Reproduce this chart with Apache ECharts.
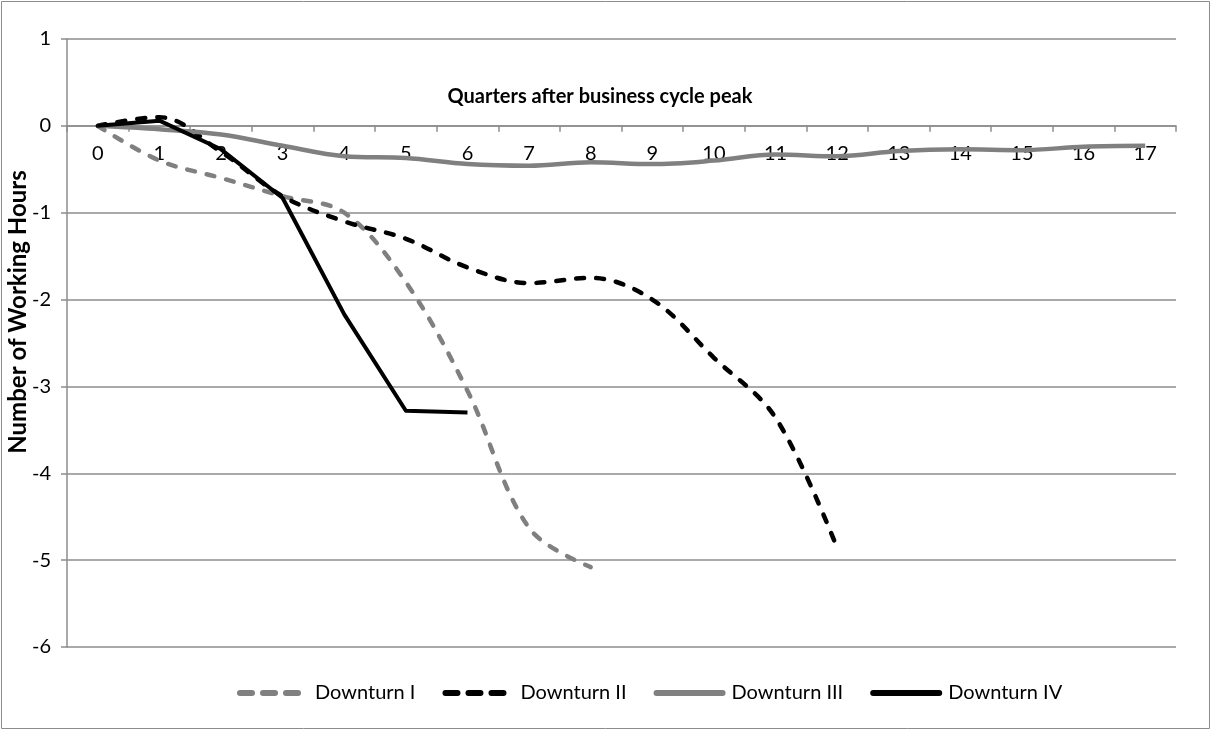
<!DOCTYPE html>
<html>
<head>
<meta charset="utf-8">
<script src="https://cdn.jsdelivr.net/npm/echarts@6/dist/echarts.min.js"></script>
<style>
html,body{margin:0;padding:0;background:#fff;}
#chart{width:1212px;height:734px;}
</style>
</head>
<body>
<div id="chart"></div>
<script>
// ---- data ----
var categories = ['0','1','2','3','4','5','6','7','8','9','10','11','12','13','14','15','16','17'];
var yTicks = { min: -6, max: 1, interval: 1 };
var downturnI   = [0, -0.40, -0.60, -0.81, -1.00, -1.80, -3.05, -4.63, -5.08];
var downturnII  = [0, 0.10, -0.30, -0.81, -1.10, -1.30, -1.63, -1.81, -1.75, -2.00, -2.67, -3.36, -4.86];
var downturnIII = [0, -0.04, -0.10, -0.23, -0.35, -0.37, -0.44, -0.46, -0.42, -0.44, -0.40, -0.33, -0.35, -0.29, -0.27, -0.28, -0.24, -0.23];
var downturnIV  = [0, 0.06, -0.27, -0.83, -2.17, -3.28, -3.30];
var seriesNames = ['Downturn I', 'Downturn II', 'Downturn III', 'Downturn IV'];
var xTitle = 'Quarters after business cycle peak';
var yTitle = 'Number of Working Hours';

var FONT = 'Lato, "Liberation Sans", sans-serif';
var GRAY = '#808080';
var AXIS = '#8c8c8c';

var GRID = { left: 67, right: 36, top: 39, bottom: 87 };
var CH = 734;
var gridHeight = CH - GRID.top - GRID.bottom;
// place the category axis at value 0 of the value axis
var zeroOffset = -((0 - yTicks.min) / (yTicks.max - yTicks.min)) * gridHeight;

var chart = echarts.init(document.getElementById('chart'), null, { renderer: 'canvas' });

function lineSeries(name, data, color, dashed, smooth, width) {
  return {
    name: name,
    type: 'line',
    data: data,
    symbol: 'none',
    showSymbol: false,
    smooth: smooth,
    lineStyle: {
      color: color,
      width: width,
      type: dashed ? [8, 12] : 'solid',
      cap: dashed ? 'round' : 'butt',
      join: 'round'
    },
    itemStyle: { color: color },
    emphasis: { disabled: true },
    animation: false
  };
}

chart.setOption({
  animation: false,
  backgroundColor: '#fff',
  grid: { left: GRID.left, right: GRID.right, top: GRID.top, bottom: GRID.bottom, containLabel: false },
  graphic: [
    { type: 'rect', shape: { x: 1.5, y: 1.5, width: 1208, height: 727 },
      style: { fill: 'none', stroke: AXIS, lineWidth: 1 }, silent: true },
    { type: 'text', x: 600, y: 97,
      style: { text: xTitle, font: 'bold 20px ' + FONT, fill: '#000', align: 'center', verticalAlign: 'middle' }, silent: true },
    { type: 'text', x: 18, y: 312, rotation: Math.PI / 2,
      style: { text: yTitle, font: 'bold 24px ' + FONT, fill: '#000', align: 'center', verticalAlign: 'middle' }, silent: true }
  ],
  legend: {
    data: [
      { name: seriesNames[0], lineStyle: { type: [12, 11], width: 6, cap: 'round' } },
      { name: seriesNames[1], lineStyle: { type: [12, 11], width: 6, cap: 'round' } },
      { name: seriesNames[2], lineStyle: { width: 6, cap: 'round' } },
      { name: seriesNames[3], lineStyle: { width: 6, cap: 'round' } }
    ],
    left: 237,
    top: 683,
    padding: 0,
    itemWidth: 66,
    itemHeight: 18,
    itemGap: 27,
    itemStyle: { opacity: 0 },
    textStyle: { fontFamily: FONT, fontSize: 20, color: '#000', padding: [0, 0, 0, 4] },
    selectedMode: false
  },
  xAxis: {
    type: 'category',
    data: categories,
    boundaryGap: true,
    position: 'bottom',
    offset: zeroOffset,
    z: 3,
    axisLine: { onZero: false, lineStyle: { color: AXIS, width: 1.5 } },
    axisTick: { show: true, alignWithLabel: false, length: 6, lineStyle: { color: AXIS, width: 1.5 } },
    axisLabel: { interval: 0, margin: 18, fontFamily: FONT, fontSize: 20, color: '#000' },
    splitLine: { show: false }
  },
  yAxis: {
    type: 'value',
    min: yTicks.min,
    max: yTicks.max,
    interval: yTicks.interval,
    axisLine: { show: true, onZero: false, lineStyle: { color: AXIS, width: 1.5 } },
    axisTick: { show: true, length: 6, lineStyle: { color: AXIS, width: 1.5 } },
    axisLabel: { margin: 16, fontFamily: FONT, fontSize: 20, color: '#000' },
    splitLine: { show: true, lineStyle: { color: AXIS, width: 1.5 } }
  },
  series: [
    lineSeries(seriesNames[0], downturnI, GRAY, true, 0.35, 4.5),
    lineSeries(seriesNames[1], downturnII, '#000', true, 0.35, 4.5),
    lineSeries(seriesNames[2], downturnIII, GRAY, false, 0.35, 4.5),
    lineSeries(seriesNames[3], downturnIV, '#000', false, false, 4)
  ]
});
</script>
</body>
</html>
